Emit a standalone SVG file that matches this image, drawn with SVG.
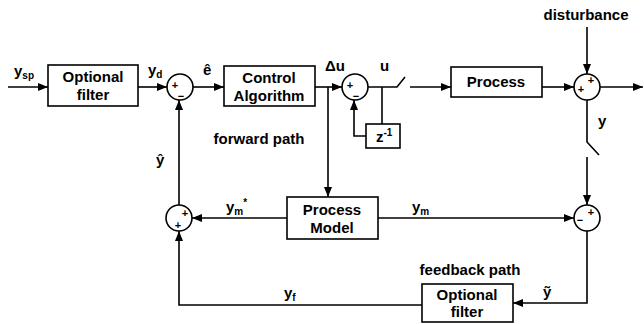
<svg xmlns="http://www.w3.org/2000/svg" width="644" height="324" viewBox="0 0 644 324">
<style>
.box{fill:#fff;stroke:#000;stroke-width:1.6}
.sum{fill:#fff;stroke:#000;stroke-width:1.6}
.ln{fill:none;stroke:#000;stroke-width:1.6}
text{font-family:"Liberation Sans",Arial,sans-serif;font-weight:bold;fill:#000}
.t{font-size:15px;text-anchor:middle}
.lb{font-size:15px}
.sg{font-size:11px;text-anchor:middle}
.sub{font-size:10px}
</style>
<defs>
<marker id="ah" viewBox="0 0 10 8" refX="10" refY="4" markerWidth="10" markerHeight="8" markerUnits="userSpaceOnUse" orient="auto">
<path d="M0,0 L10,4 L0,8 Z" fill="#000"/>
</marker>
</defs>
<rect width="644" height="324" fill="#fff"/>
<g id="connectors">
<line class="ln" x1="8" y1="87" x2="48" y2="87" marker-end="url(#ah)"/>
<line class="ln" x1="138" y1="87" x2="167" y2="87" marker-end="url(#ah)"/>
<line class="ln" x1="193" y1="87" x2="224" y2="87" marker-end="url(#ah)"/>
<line class="ln" x1="315" y1="87" x2="342" y2="87" marker-end="url(#ah)"/>
<line class="ln" x1="328" y1="87" x2="328" y2="197" marker-end="url(#ah)"/>
<polyline class="ln" points="368,87 397,87 405,77"/>
<line class="ln" x1="410" y1="87" x2="451" y2="87" marker-end="url(#ah)"/>
<line class="ln" x1="382" y1="87" x2="382" y2="124"/>
<polyline class="ln" points="366,136 354,136 354,100" marker-end="url(#ah)"/>
<line class="ln" x1="542" y1="87" x2="574" y2="87" marker-end="url(#ah)"/>
<line class="ln" x1="587" y1="27" x2="587" y2="74" marker-end="url(#ah)"/>
<line class="ln" x1="600" y1="87" x2="643" y2="87" marker-end="url(#ah)"/>
<polyline class="ln" points="587,100 587,142 599,155"/>
<line class="ln" x1="587" y1="157" x2="587" y2="205" marker-end="url(#ah)"/>
<line class="ln" x1="378" y1="218" x2="574" y2="218" marker-end="url(#ah)"/>
<polyline class="ln" points="587,231 587,303 513,303" marker-end="url(#ah)"/>
<polyline class="ln" points="422,305 179,305 179,231" marker-end="url(#ah)"/>
<line class="ln" x1="287" y1="218" x2="192" y2="218" marker-end="url(#ah)"/>
<line class="ln" x1="179" y1="205" x2="179" y2="100" marker-end="url(#ah)"/>
</g>
<g id="filter1">
<rect class="box" x="48" y="65" width="90" height="41"/>
<text class="t" x="93" y="82">Optional</text>
<text class="t" x="93" y="100">filter</text>
</g>
<g id="sum1">
<circle class="sum" cx="180" cy="87" r="13"/>
<text class="sg" x="175" y="89">+</text>
<text class="sg" x="181" y="100">−</text>
</g>
<g id="control">
<rect class="box" x="224" y="66" width="91" height="40"/>
<text class="t" x="269" y="83">Control</text>
<text class="t" x="269" y="101">Algorithm</text>
</g>
<g id="sum2">
<circle class="sum" cx="355" cy="87" r="13"/>
<text class="sg" x="350" y="89">+</text>
<text class="sg" x="356" y="100">−</text>
</g>
<g id="delay">
<rect class="box" x="366" y="124" width="34" height="24"/>
<text class="lb" x="376" y="142">z<tspan class="sub" dy="-6">-1</tspan></text>
</g>
<g id="process">
<rect class="box" x="451" y="67" width="91" height="30"/>
<text class="t" x="496" y="87">Process</text>
</g>
<g id="sum3">
<circle class="sum" cx="587" cy="87" r="13"/>
<text class="sg" x="581" y="93">+</text>
<text class="sg" x="591" y="84">+</text>
</g>
<g id="sum4">
<circle class="sum" cx="179" cy="218" r="13"/>
<text class="sg" x="185" y="217">+</text>
<text class="sg" x="178" y="229">+</text>
</g>
<g id="model">
<rect class="box" x="287" y="197" width="91" height="42"/>
<text class="t" x="332" y="215">Process</text>
<text class="t" x="332" y="233">Model</text>
</g>
<g id="sum5">
<circle class="sum" cx="587" cy="218" r="13"/>
<text class="sg" x="591" y="216">+</text>
<text class="sg" x="580" y="224">−</text>
</g>
<g id="filter2">
<rect class="box" x="422" y="284" width="91" height="38"/>
<text class="t" x="467" y="300">Optional</text>
<text class="t" x="467" y="317">filter</text>
</g>
<g id="labels">
<text class="lb" x="14" y="76">y<tspan class="sub" dy="3">sp</tspan></text>
<text class="lb" x="148" y="75">y<tspan class="sub" dy="3">d</tspan></text>
<text class="lb" x="203" y="75">ê</text>
<text class="lb" x="325" y="71">Δu</text>
<text class="lb" x="380" y="71">u</text>
<text class="t" x="586" y="20">disturbance</text>
<text class="lb" x="598" y="126">y</text>
<text class="t" x="259" y="144">forward path</text>
<text class="lb" x="156" y="165">ŷ</text>
<text class="lb" x="226" y="212">y<tspan class="sub" dy="3">m</tspan><tspan class="sub" dy="-9">*</tspan></text>
<text class="lb" x="412" y="212">y<tspan class="sub" dy="3">m</tspan></text>
<text class="t" x="470" y="275">feedback path</text>
<text class="lb" x="543" y="297">ỹ</text>
<text class="lb" x="284" y="298">y<tspan class="sub" dy="3">f</tspan></text>
</g>
</svg>
